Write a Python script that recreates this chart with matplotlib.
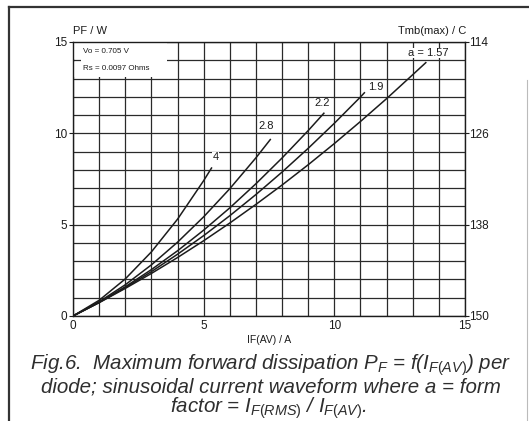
import matplotlib
matplotlib.use("Agg")
import matplotlib.pyplot as plt
from matplotlib.lines import Line2D
from matplotlib.patches import Rectangle

plt.rcParams['font.family'] = ['Liberation Sans', 'DejaVu Sans']
plt.rcParams['mathtext.fontset'] = 'custom'
plt.rcParams['mathtext.rm'] = 'Liberation Sans'
plt.rcParams['mathtext.it'] = 'Liberation Sans:italic'

# curves: IF(AV) in A, PF in W, one list pair per form factor a
i_a4 = [0, 1, 2, 3, 4, 5, 5.3]
p_a4 = [0, 0.86, 2.03, 3.51, 5.30, 7.41, 8.10]
i_a28 = [0, 1, 2, 3, 4, 5, 6, 7, 7.55]
p_a28 = [0, 0.78, 1.71, 2.80, 4.04, 5.43, 6.97, 8.66, 9.66]
i_a22 = [0, 1, 2, 3, 4, 5, 6, 7, 8, 9, 9.6]
p_a22 = [0, 0.75, 1.60, 2.54, 3.57, 4.70, 5.92, 7.24, 8.65, 10.15, 11.10]
i_a19 = [0, 1, 2, 3, 4, 5, 6, 7, 8, 9, 10, 11, 11.15]
p_a19 = [0, 0.74, 1.55, 2.43, 3.38, 4.40, 5.49, 6.65, 7.88, 9.18, 10.55, 11.99, 12.22]
i_a157 = [0, 1, 2, 3, 4, 5, 6, 7, 8, 9, 10, 11, 12, 13, 13.5]
p_a157 = [0, 0.73, 1.51, 2.33, 3.20, 4.12, 5.09, 6.11, 7.17, 8.28, 9.44, 10.65, 11.90, 13.21, 13.87]

curve_labels = ['4', '2.8', '2.2', '1.9', 'a = 1.57']
label_x = [5.45, 7.4, 9.55, 11.6, 13.6]
label_y = [8.7, 10.4, 11.65, 12.55, 14.4]

y_ticks = [0, 5, 10, 15]
tmb_labels = ['150', '138', '126', '114']
x_ticks = [0, 5, 10, 15]

ink = '#1c1c1c'

fig = plt.figure(figsize=(5.29, 4.21), dpi=100)
fig.patch.set_facecolor('white')
ax = fig.add_axes([73 / 529, 1 - 316 / 421, 392 / 529, 274 / 421])

# grid every 1 A / 1 W
for v in range(0, 16):
    ax.axvline(v, color='#2a2a2a', lw=0.9, zorder=1)
    ax.axhline(v, color='#2a2a2a', lw=0.9, zorder=1)

# white box for the diode parameters
ax.add_patch(Rectangle((0.3, 13.07), 3.3, 1.87, facecolor='white', edgecolor='none', zorder=2))
ax.add_patch(Rectangle((0.03, 13.07), 0.27, 0.85, facecolor='white', edgecolor='none', zorder=2))
ax.add_patch(Rectangle((0.03, 14.08), 0.27, 0.86, facecolor='white', edgecolor='none', zorder=2))
ax.text(0.38, 14.5, 'Vo = 0.705 V', fontsize=5.8, color=ink, va='center', zorder=3)
ax.text(0.38, 13.55, 'Rs = 0.0097 Ohms', fontsize=5.8, color=ink, va='center', zorder=3)

for xs, ys in [(i_a4, p_a4), (i_a28, p_a28), (i_a22, p_a22), (i_a19, p_a19), (i_a157, p_a157)]:
    ax.plot(xs, ys, color=ink, lw=1.1, zorder=4)

for lab, lx, ly in zip(curve_labels, label_x, label_y):
    ax.text(lx, ly, lab, fontsize=8, color=ink, ha='center', va='center', zorder=5,
            bbox=dict(facecolor='white', edgecolor='none', pad=0.3))

ax.set_xlim(0, 15)
ax.set_ylim(0, 15)
ax.set_xticks(x_ticks)
ax.set_yticks(y_ticks)
ax.tick_params(axis='both', labelsize=8.5, colors=ink, length=3, width=0.8, pad=1)
ax.tick_params(axis='x', length=0, pad=3)
for s in ax.spines.values():
    s.set_color(ink)
    s.set_linewidth(1.0)

ax2 = ax.twinx()
ax2.set_ylim(0, 15)
ax2.set_yticks(y_ticks)
ax2.set_yticklabels(tmb_labels)
ax2.tick_params(axis='y', labelsize=8.5, colors=ink, length=3, width=0.8, pad=0)
for s in ax2.spines.values():
    s.set_visible(False)

ax.text(0, 15.35, 'PF / W', fontsize=8, color=ink, ha='left', va='bottom')
ax.text(15.05, 15.35, 'Tmb(max) / C', fontsize=8, color=ink, ha='right', va='bottom')
ax.set_xlabel('IF(AV) / A', fontsize=7.5, color=ink, labelpad=2)

cap = dict(fontsize=14.8, style='italic', color='#2e2e2e', ha='center', va='center')
fig.text(271 / 529, 1 - 365 / 421, 'Fig.6.  Maximum forward dissipation $P_F$ = f($I_{F(AV)}$) per', **cap)
fig.text(271 / 529, 1 - 387 / 421, 'diode; sinusoidal current waveform where a = form', **cap)
fig.text(269 / 529, 1 - 408 / 421, 'factor = $I_{F(RMS)}$ / $I_{F(AV)}$.', **cap)

# scan frame
fig.add_artist(Line2D([9 / 529, 9 / 529], [0, 1 - 7 / 421], color='#333333', lw=1.6))
fig.add_artist(Line2D([9 / 529, 1], [1 - 7 / 421, 1 - 7 / 421], color='#333333', lw=1.6))
fig.add_artist(Line2D([527 / 529, 527 / 529], [0, 1 - 80 / 421], color='#bbbbbb', lw=0.8))

fig.savefig('out.png', dpi=100)
